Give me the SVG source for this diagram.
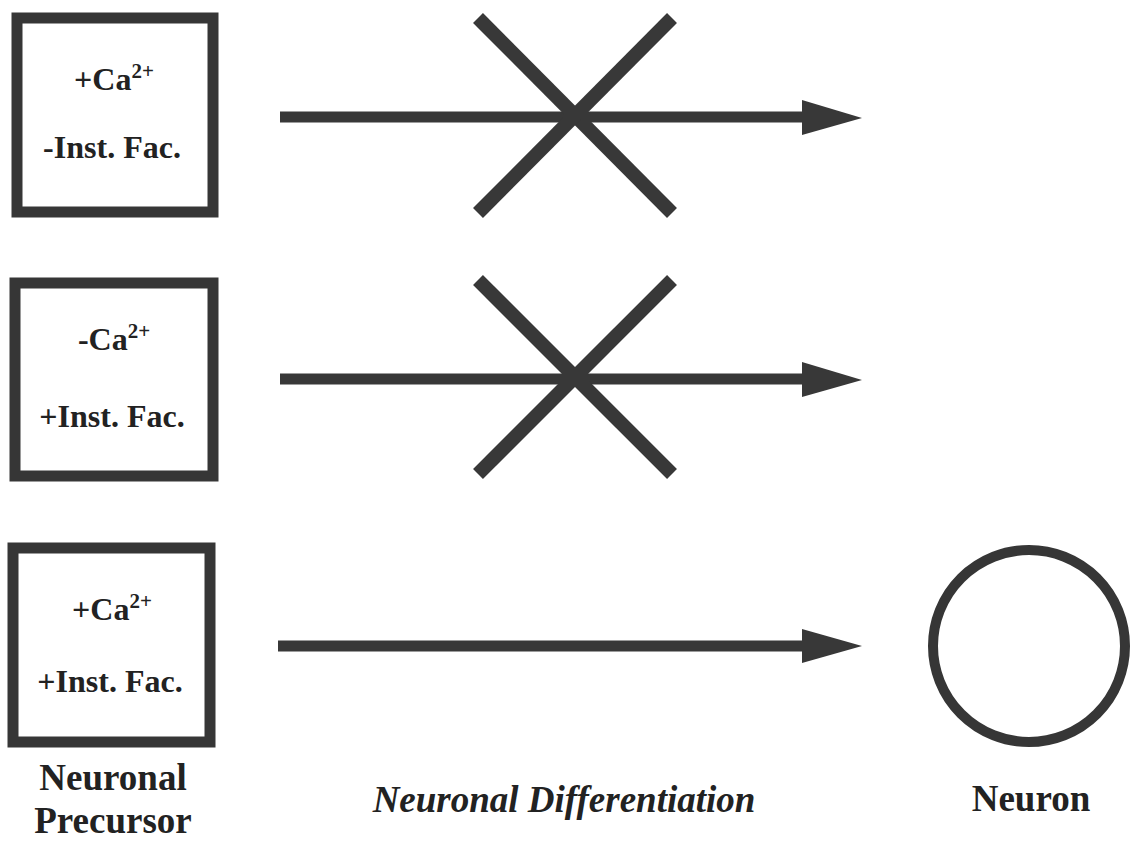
<svg xmlns="http://www.w3.org/2000/svg" width="1130" height="842" viewBox="0 0 1130 842">
<defs>
<style>
.box{fill:#fff;stroke:#363636;stroke-width:11}
.t{font-family:"Liberation Serif","Times New Roman",serif;font-weight:bold;font-size:32px;fill:#222;text-anchor:middle}
.sup{font-size:21px}
.lbl{font-family:"Liberation Serif","Times New Roman",serif;font-weight:bold;font-size:37px;fill:#222;text-anchor:middle}
.it{font-style:italic}
.ln{stroke:#383838;stroke-width:11;fill:none}
.x{stroke:#383838;stroke-width:14;fill:none;stroke-linecap:butt}
.ah{fill:#383838}
</style>
</defs>
<rect width="1130" height="842" fill="#fff"/>
<g id="precursor1">
<rect class="box" x="17" y="18" width="196" height="194"/>
<text class="t" x="114" y="90">+Ca<tspan class="sup" dy="-12">2+</tspan></text>
<text class="t" x="112" y="158">-Inst. Fac.</text>
</g>
<g id="precursor2">
<rect class="box" x="15" y="283" width="198" height="193"/>
<text class="t" x="114" y="350">-Ca<tspan class="sup" dy="-12">2+</tspan></text>
<text class="t" x="112" y="427">+Inst. Fac.</text>
</g>
<g id="precursor3">
<rect class="box" x="13" y="548" width="197" height="194"/>
<text class="t" x="112" y="620">+Ca<tspan class="sup" dy="-12">2+</tspan></text>
<text class="t" x="110" y="692">+Inst. Fac.</text>
</g>
<g id="neuron">
<circle cx="1029" cy="646" r="96" fill="#fff" stroke="#363636" stroke-width="10"/>
</g>
<g id="connectors">
<line class="ln" x1="280" y1="117" x2="805" y2="117"/>
<polygon class="ah" points="802,100 862,118 802,135"/>
<line class="x" x1="478" y1="18" x2="672" y2="213"/>
<line class="x" x1="672" y1="18" x2="478" y2="213"/>
<line class="ln" x1="280" y1="379" x2="805" y2="379"/>
<polygon class="ah" points="802,362 862,380 802,397"/>
<line class="x" x1="478" y1="280" x2="672" y2="474"/>
<line class="x" x1="672" y1="280" x2="478" y2="474"/>
<line class="ln" x1="278" y1="646" x2="805" y2="646"/>
<polygon class="ah" points="802,629 862,646 802,663"/>
</g>
<g id="labels">
<text class="lbl" x="113" y="790">Neuronal</text>
<text class="lbl" x="113" y="833">Precursor</text>
<text class="lbl it" x="564" y="812">Neuronal Differentiation</text>
<text class="lbl" x="1031" y="811">Neuron</text>
</g>
</svg>
